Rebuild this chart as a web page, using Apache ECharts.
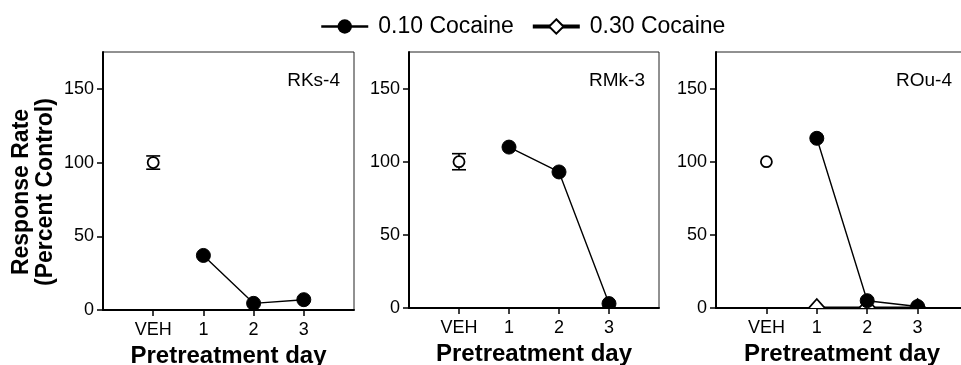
<!DOCTYPE html>
<html>
<head>
<meta charset="utf-8">
<script src="https://cdn.jsdelivr.net/npm/echarts@6/dist/echarts.min.js"></script>
<style>
  html, body { margin: 0; padding: 0; background: #fff; }
  #chart { width: 961px; height: 365px; }
</style>
</head>
<body>
<div id="chart"></div>
<script>
// Tick labels and subjects
const dayLabels = ['VEH', '1', '2', '3'];
const dayTicks = [0, 1, 2, 3];
const yTicks = [0, 50, 100, 150];
const panelNames = ['RKs-4', 'RMk-3', 'ROu-4'];

// Vehicle (percent of control): mean and SEM per subject
const vehMean = [100, 100, 100];
const vehSem = [4.5, 5.5, 0];

// 0.10 cocaine, pretreatment days 1-3
const rks4Low = [37, 4.5, 7];
const rmk3Low = [110, 93, 3];
const rou4Low = [116, 5, 1];

// 0.30 cocaine, pretreatment days 1-3 (ROu-4 only)
const rou4High = [0, 0, 0];

const lowDose = [rks4Low, rmk3Low, rou4Low];
const highDose = [null, null, rou4High];

const FONT = '"Liberation Sans", Arial, Helvetica, sans-serif';
const INK = '#000';

const gridBoxes = [
  { left: 103, top: 52, width: 251, height: 258 },
  { left: 409, top: 52, width: 250, height: 256 },
  { left: 716, top: 52, width: 252, height: 256 }
];

const toPoints = arr => arr.map((v, k) => [k + 1, v]);

// marker kinds: 0 = filled circle, 1 = open circle, 2 = open diamond
function renderMarker(params, api) {
  const p = api.coord([api.value(0), api.value(1)]);
  const kind = api.value(2);
  if (kind === 0) {
    return { type: 'circle', shape: { cx: p[0], cy: p[1], r: 7 },
             style: { fill: INK, stroke: INK, lineWidth: 1 } };
  }
  if (kind === 1) {
    return { type: 'circle', shape: { cx: p[0], cy: p[1], r: 5.5 },
             style: { fill: '#fff', stroke: INK, lineWidth: 1.8 } };
  }
  const hw = 8, hh = 9;
  return { type: 'polygon',
           shape: { points: [[p[0], p[1] - hh], [p[0] + hw, p[1]], [p[0], p[1] + hh], [p[0] - hw, p[1]]] },
           style: { fill: '#fff', stroke: INK, lineWidth: 1.8 } };
}

function renderErrorBar(params, api) {
  const x = api.value(0);
  const lo = api.coord([x, api.value(1)]);
  const hi = api.coord([x, api.value(2)]);
  const cap = 7;
  const st = { stroke: INK, lineWidth: 1.6 };
  return { type: 'group', children: [
    { type: 'line', shape: { x1: lo[0], y1: lo[1], x2: hi[0], y2: hi[1] }, style: st },
    { type: 'line', shape: { x1: lo[0] - cap, y1: lo[1], x2: lo[0] + cap, y2: lo[1] }, style: st },
    { type: 'line', shape: { x1: hi[0] - cap, y1: hi[1], x2: hi[0] + cap, y2: hi[1] }, style: st }
  ]};
}

const grid = [], xAxis = [], yAxis = [], series = [], title = [];
const titleRight = [621, 316, 9];

for (let i = 0; i < 3; i++) {
  grid.push(Object.assign({ show: true, borderColor: '#222', borderWidth: 1,
                            containLabel: false, outerBoundsMode: 'none' }, gridBoxes[i]));

  xAxis.push({
    type: 'value', gridIndex: i, min: -1, max: 4, interval: 1,
    axisLine: { show: true, onZero: false, lineStyle: { color: INK, width: 2 } },
    axisTick: { show: true, customValues: dayTicks, length: 6, lineStyle: { color: INK, width: 1.5 } },
    axisLabel: { customValues: dayTicks, formatter: v => dayLabels[Math.round(v)],
                 color: INK, fontSize: 18, fontFamily: FONT, margin: 11 },
    splitLine: { show: false },
    name: 'Pretreatment day', nameLocation: 'middle', nameGap: 30,
    nameTextStyle: { color: INK, fontSize: 24, fontWeight: 'bold', fontFamily: FONT }
  });

  const ya = {
    type: 'value', gridIndex: i, min: 0, max: 175, interval: 50,
    axisLine: { show: true, onZero: false, lineStyle: { color: INK, width: 2 } },
    axisTick: { show: true, customValues: yTicks, length: 6, lineStyle: { color: INK, width: 1.5 } },
    axisLabel: { customValues: yTicks, color: INK, fontSize: 18, fontFamily: FONT, margin: 9 },
    splitLine: { show: false }
  };
  if (i === 0) {
    ya.name = 'Response Rate\n(Percent Control)';
    ya.nameLocation = 'middle';
    ya.nameGap = 45;
    ya.nameTextStyle = { color: INK, fontSize: 23, fontWeight: 'bold', fontFamily: FONT,
                         lineHeight: 24, align: 'center', padding: [0, 22, 0, 0] };
  }
  yAxis.push(ya);

  title.push({
    text: panelNames[i], right: titleRight[i], top: 71, padding: 0,
    textStyle: { color: INK, fontSize: 19, fontWeight: 'normal', fontFamily: FONT }
  });

  // connecting lines
  series.push({
    name: '0.10 Cocaine', type: 'line', xAxisIndex: i, yAxisIndex: i,
    data: toPoints(lowDose[i]), symbol: 'circle', showSymbol: false,
    itemStyle: { color: INK }, lineStyle: { color: INK, width: 1.4 },
    silent: true, animation: false, z: 3
  });
  if (highDose[i]) {
    series.push({
      name: '0.30 Cocaine', type: 'line', xAxisIndex: i, yAxisIndex: i,
      data: toPoints(highDose[i]), symbol: 'emptyDiamond', showSymbol: false,
      itemStyle: { color: INK }, lineStyle: { color: INK, width: 3 },
      silent: true, animation: false, z: 3
    });
  }

  // vehicle error bar
  if (vehSem[i] > 0) {
    series.push({
      type: 'custom', xAxisIndex: i, yAxisIndex: i, clip: true, silent: true, animation: false, z: 4,
      renderItem: renderErrorBar,
      data: [[0, vehMean[i] - vehSem[i], vehMean[i] + vehSem[i]]]
    });
  }

  // markers: diamonds first, then filled circles, then vehicle ring
  const markers = [];
  if (highDose[i]) toPoints(highDose[i]).forEach(p => markers.push([p[0], p[1], 2]));
  toPoints(lowDose[i]).forEach(p => markers.push([p[0], p[1], 0]));
  markers.push([0, vehMean[i], 1]);
  series.push({
    type: 'custom', xAxisIndex: i, yAxisIndex: i, clip: true, silent: true, animation: false, z: 5,
    renderItem: renderMarker, data: markers
  });
}

const chart = echarts.init(document.getElementById('chart'), null, { renderer: 'canvas' });
chart.setOption({
  backgroundColor: '#fff',
  animation: false,
  title: title,
  legend: {
    data: [
      { name: '0.10 Cocaine', lineStyle: { width: 2.5 } },
      { name: '0.30 Cocaine', lineStyle: { width: 4 } }
    ],
    left: 315, top: 10, itemWidth: 47, itemHeight: 18, itemGap: 17,
    selectedMode: false,
    textStyle: { color: INK, fontSize: 23, fontFamily: FONT, padding: [0, 0, 0, 5] }
  },
  grid: grid,
  xAxis: xAxis,
  yAxis: yAxis,
  series: series
});
</script>
</body>
</html>
